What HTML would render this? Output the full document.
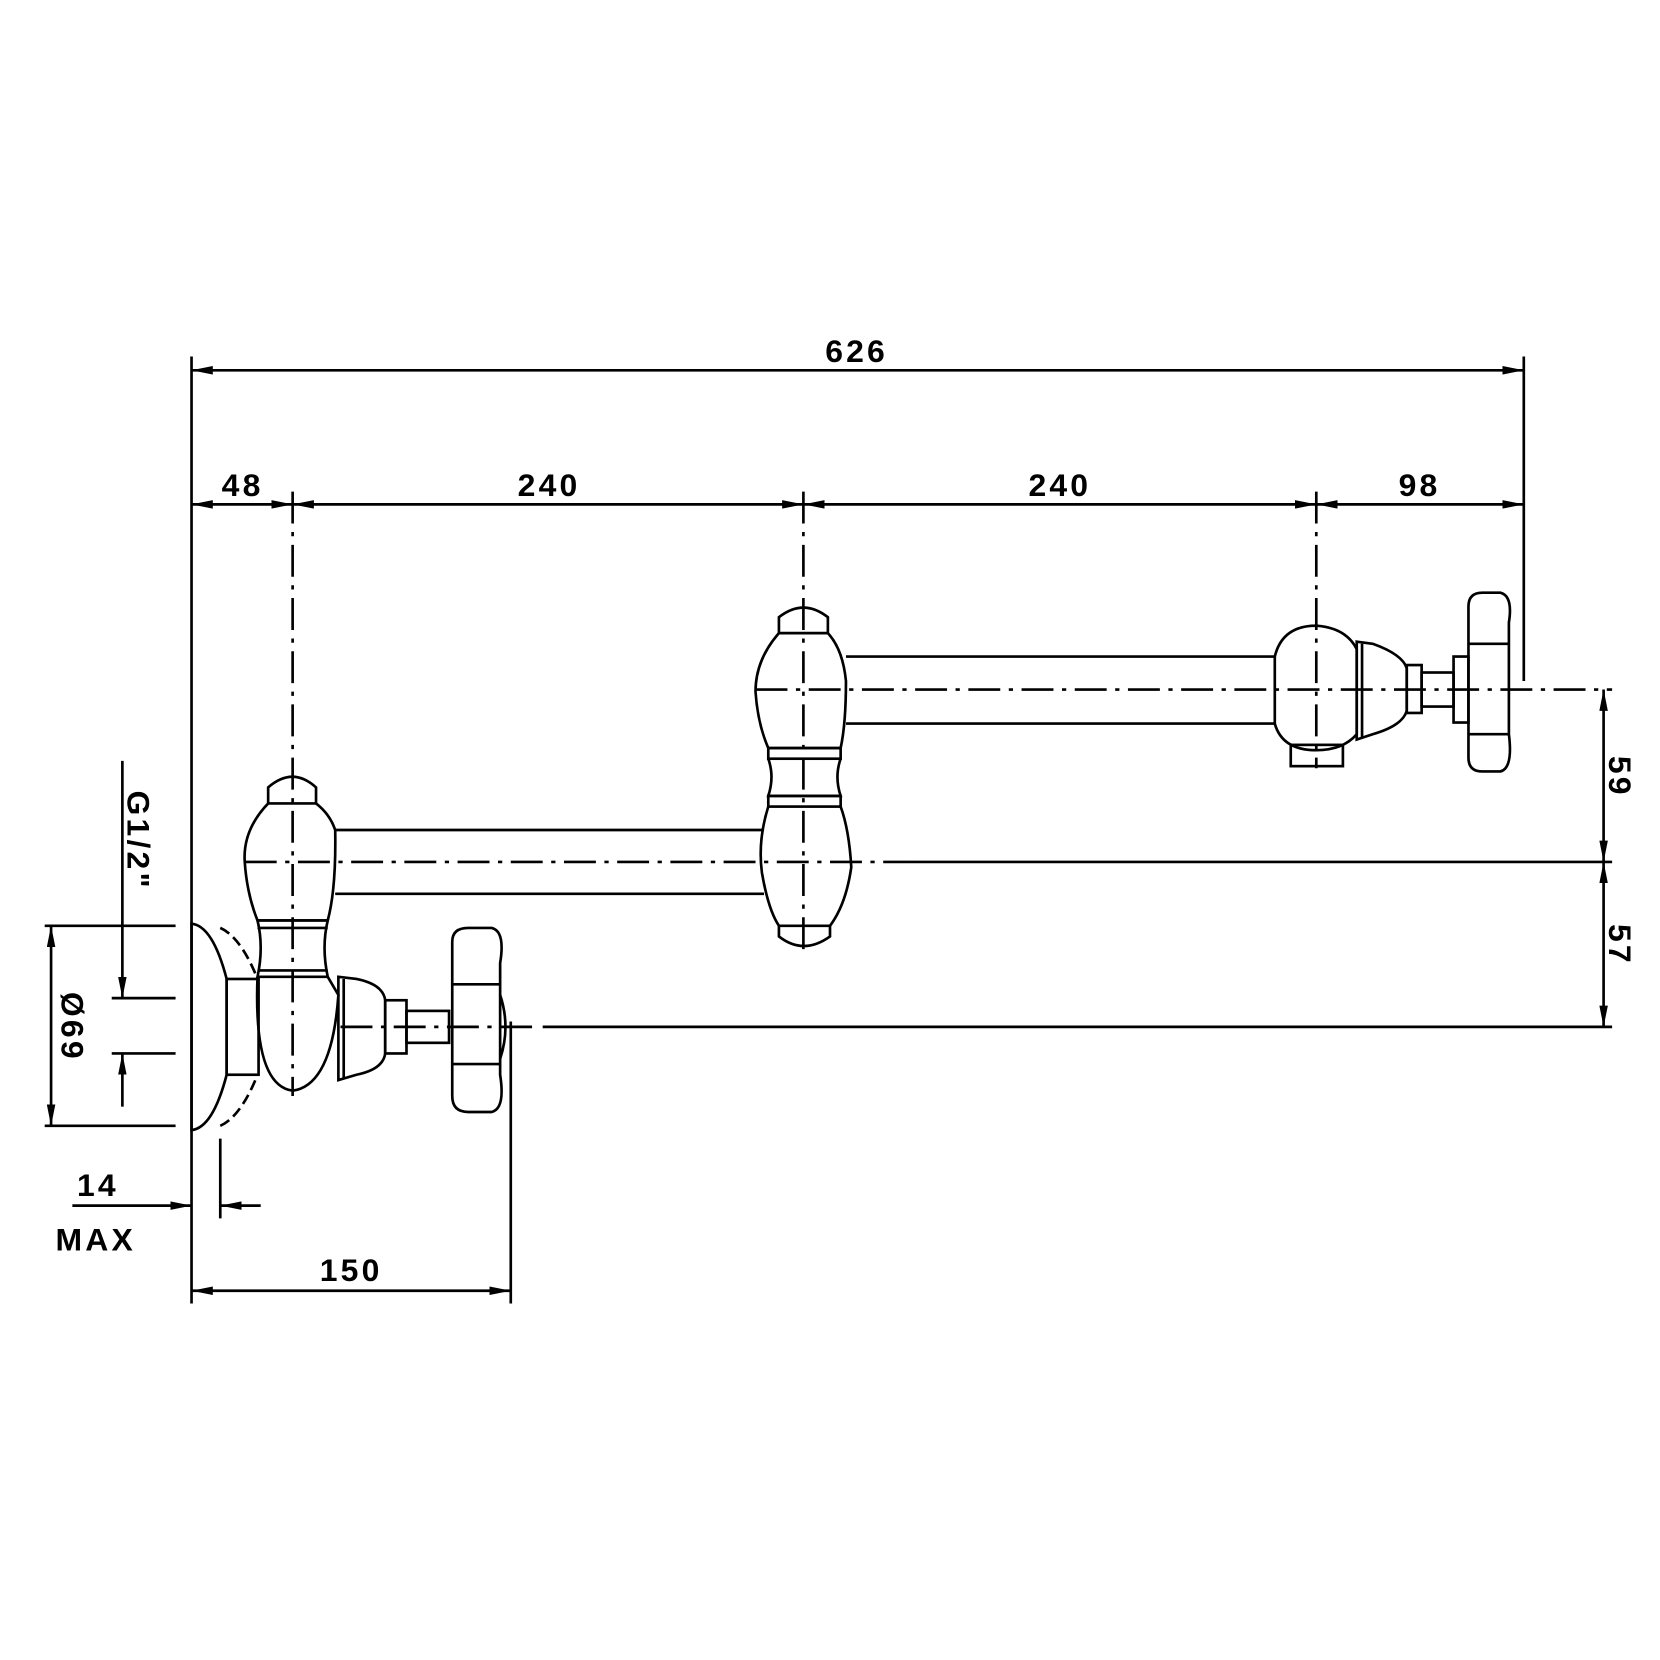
<!DOCTYPE html>
<html><head><meta charset="utf-8"><style>
html,body{margin:0;padding:0;background:#fff;width:1660px;height:1660px;overflow:hidden}
svg{display:block}
text{font-family:"Liberation Sans",sans-serif;font-weight:bold;font-size:30px;letter-spacing:3px;fill:#000}
</style></head><body>
<svg width="1660" height="1660" viewBox="0 0 1560 1560" xmlns="http://www.w3.org/2000/svg">
<defs>
<marker id="a" viewBox="0 0 20 8" refX="20" refY="4" markerWidth="20" markerHeight="8" markerUnits="userSpaceOnUse" orient="auto-start-reverse"><path d="M0,0 L20,4 L0,8 z" fill="#000"/></marker>
</defs>
<g stroke="#000" stroke-width="2.5" fill="none">
<!-- extension lines -->
<line x1="180" y1="335" x2="180" y2="1225"/>
<line x1="1432" y1="335" x2="1432" y2="640"/>
<line x1="480" y1="960" x2="480" y2="1225"/>
<line x1="207" y1="1070" x2="207" y2="1145"/>
<!-- dims -->
<line x1="180" y1="348" x2="1432" y2="348" marker-start="url(#a)" marker-end="url(#a)"/>
<line x1="180" y1="474" x2="275" y2="474" marker-start="url(#a)" marker-end="url(#a)"/>
<line x1="275" y1="474" x2="755" y2="474" marker-start="url(#a)" marker-end="url(#a)"/>
<line x1="755" y1="474" x2="1237" y2="474" marker-start="url(#a)" marker-end="url(#a)"/>
<line x1="1237" y1="474" x2="1432" y2="474" marker-start="url(#a)" marker-end="url(#a)"/>
<line x1="1507" y1="648" x2="1507" y2="810" marker-start="url(#a)" marker-end="url(#a)"/>
<line x1="1507" y1="810" x2="1507" y2="965" marker-start="url(#a)" marker-end="url(#a)"/>
<line x1="48" y1="870" x2="48" y2="1058" marker-start="url(#a)" marker-end="url(#a)"/>
<line x1="42" y1="870" x2="165" y2="870"/><line x1="42" y1="1058" x2="165" y2="1058"/>
<line x1="115" y1="715" x2="115" y2="938" marker-end="url(#a)"/>
<line x1="115" y1="1040" x2="115" y2="990" marker-end="url(#a)"/>
<line x1="105" y1="938" x2="165" y2="938"/><line x1="105" y1="990" x2="165" y2="990"/>
<line x1="68" y1="1133" x2="180" y2="1133" marker-end="url(#a)"/>
<line x1="245" y1="1133" x2="207" y2="1133" marker-end="url(#a)"/>
<line x1="180" y1="1213" x2="480" y2="1213" marker-start="url(#a)" marker-end="url(#a)"/>
<!-- center lines -->
<g stroke-dasharray="30,8,4,8">
<line x1="275" y1="462" x2="275" y2="1030"/>
<line x1="755" y1="462" x2="755" y2="892"/>
<line x1="1237" y1="462" x2="1237" y2="722"/>
<line x1="710" y1="648" x2="1515" y2="648"/>
<line x1="230" y1="810" x2="850" y2="810"/>
<line x1="320" y1="965" x2="500" y2="965"/>
</g>
<line x1="850" y1="810" x2="1515" y2="810"/>
<line x1="510" y1="965" x2="1515" y2="965"/>
<!-- left assembly -->
<path d="M252,755 L252,740 Q275,720 297,740 L297,755 Z"/>
<path d="M252,755 Q228,780 230,810 Q232,840 242,865 L308,865 Q316,835 315,780 Q310,765 297,755"/>
<line x1="315" y1="780" x2="718" y2="780"/><line x1="315" y1="840" x2="718" y2="840"/>
<path d="M242,865 L308,865 Q302,890 308,918 L242,918 Q248,890 242,865 Z"/>
<line x1="242" y1="872" x2="308" y2="872"/><line x1="242" y1="912" x2="308" y2="912"/>
<path d="M242,918 Q238,1020 275,1025 Q312,1020 318,935 L308,918"/>
<rect x="213" y="920" width="30" height="90"/>
<path d="M180,868 Q200,870 213,920 L213,1010 Q200,1060 180,1062 Z"/>
<path d="M207,872 Q225,880 240,915" stroke-dasharray="10,5"/>
<path d="M207,1058 Q225,1050 240,1015" stroke-dasharray="10,5"/>
<path d="M318,918 L335,920 Q360,925 362,940 L362,990 Q360,1005 335,1010 L318,1015 Z"/>
<line x1="323" y1="920" x2="323" y2="1013"/>
<rect x="362" y="940" width="20" height="50"/>
<rect x="382" y="950" width="40" height="30"/>
<path d="M425,885 Q425,872 440,872 L462,872 Q475,875 470,905 L470,1010 Q475,1042 462,1045 L440,1045 Q425,1045 425,1030 Z"/>
<line x1="425" y1="925" x2="470" y2="925"/><line x1="425" y1="1000" x2="470" y2="1000"/>
<path d="M470,935 Q480,965 470,995"/>
<!-- middle assembly -->
<path d="M732,595 L732,580 Q755,562 778,580 L778,595 Z"/>
<path d="M732,595 Q710,620 710,650 Q712,680 722,703 L790,703 Q795,680 795,640 Q792,610 778,595"/>
<rect x="722" y="703" width="68" height="10"/>
<path d="M722,713 Q728,730 722,748 L790,748 Q784,730 790,713"/>
<rect x="722" y="748" width="68" height="10"/>
<path d="M722,758 Q712,790 716,820 Q722,855 732,870 L780,870 Q795,850 800,815 Q798,780 790,758"/>
<path d="M732,870 L732,880 Q755,898 780,880 L780,870"/>
<line x1="795" y1="617" x2="1198" y2="617"/><line x1="795" y1="680" x2="1198" y2="680"/>
<!-- right assembly -->
<path d="M1198,617 Q1205,588 1237,588 Q1265,590 1275,610 L1275,690 Q1262,705 1237,705 Q1205,705 1198,680 Z"/>
<rect x="1213" y="700" width="49" height="20"/>
<path d="M1275,603 L1290,605 Q1318,615 1322,628 L1322,668 Q1318,682 1290,690 L1275,695 Z"/>
<line x1="1280" y1="605" x2="1280" y2="693"/>
<rect x="1322" y="625" width="14" height="45"/>
<rect x="1336" y="632" width="30" height="32"/>
<path d="M1380,570 Q1380,557 1393,557 L1410,557 Q1422,560 1418,585 L1418,690 Q1422,722 1410,725 L1393,725 Q1380,725 1380,712 Z"/>
<line x1="1380" y1="605" x2="1418" y2="605"/><line x1="1380" y1="690" x2="1418" y2="690"/>
<rect x="1366" y="617" width="14" height="62"/>
</g>
<text x="805" y="340" text-anchor="middle">626</text>
<text x="228" y="466" text-anchor="middle">48</text>
<text x="516" y="466" text-anchor="middle">240</text>
<text x="996" y="466" text-anchor="middle">240</text>
<text x="1334" y="466" text-anchor="middle">98</text>
<text x="92" y="1124" text-anchor="middle">14</text>
<text x="90" y="1175" text-anchor="middle">MAX</text>
<text x="330" y="1204" text-anchor="middle">150</text>
<text transform="translate(1512,730) rotate(90)" text-anchor="middle">59</text>
<text transform="translate(1512,888) rotate(90)" text-anchor="middle">57</text>
<text transform="translate(58,965) rotate(90)" text-anchor="middle">Ø69</text>
<text transform="translate(120,790) rotate(90)" text-anchor="middle">G1/2"</text>
</svg>
</body></html>
